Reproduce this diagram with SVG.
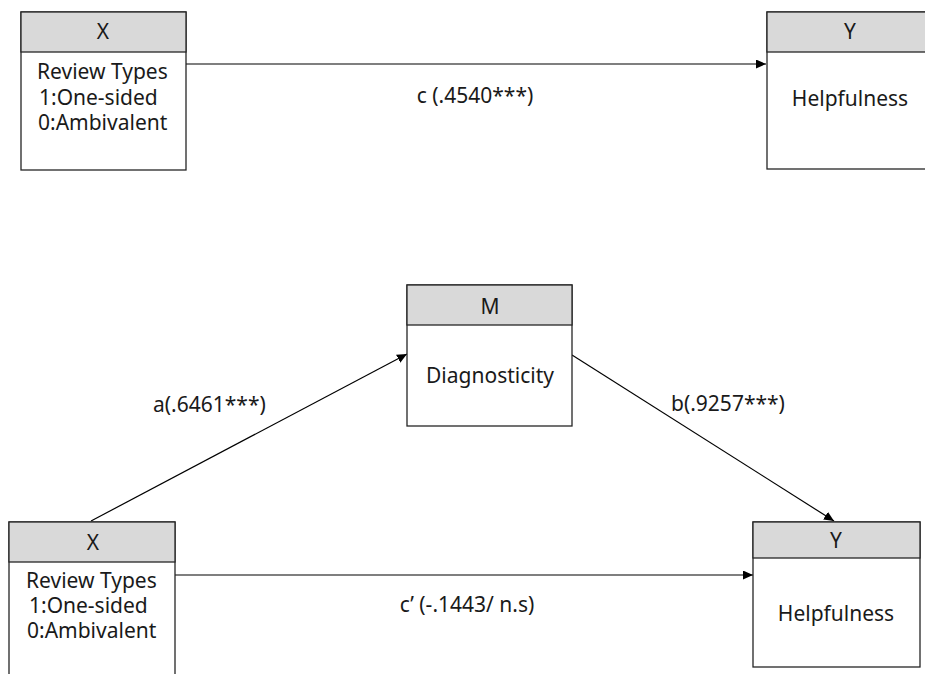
<svg xmlns="http://www.w3.org/2000/svg" width="925" height="674" viewBox="0 0 925 674">
<style>
.box{fill:#ffffff;stroke:#262626;stroke-width:1.3}
.hdr{fill:#d9d9d9;stroke:#262626;stroke-width:1.3}
text{font-family:"Noto Sans","Open Sans","Liberation Sans",sans-serif;font-size:21px;fill:#1a1a1a}
.c{text-anchor:middle}
.conn{stroke:#000;stroke-width:1.2;fill:none;marker-end:url(#ah)}
</style>
<defs>
<marker id="ah" markerUnits="userSpaceOnUse" markerWidth="11" markerHeight="10" refX="10" refY="4.5" orient="auto">
<path d="M0,0 L10,4.5 L0,9 z" fill="#000"/>
</marker>
</defs>
<rect width="925" height="674" fill="#ffffff"/>
<g id="connectors">
<line class="conn" x1="186" y1="64" x2="766" y2="64"/>
<line class="conn" x1="91" y1="521" x2="407" y2="354"/>
<line class="conn" x1="572" y1="355" x2="834" y2="521"/>
<line class="conn" x1="175" y1="575" x2="753" y2="575"/>
<text class="c" x="475" y="103">c (.4540***)</text>
<text x="153" y="412">a(.6461***)</text>
<text x="671" y="411">b(.9257***)</text>
<text class="c" x="467" y="612">c’ (-.1443/ n.s)</text>
</g>
<g id="node-x-top">
<rect class="box" x="21" y="12" width="165" height="158"/>
<rect class="hdr" x="21" y="12" width="165" height="40"/>
<text class="c" x="103" y="39">X</text>
<text x="37" y="79">Review Types</text>
<text x="39" y="105">1:One-sided</text>
<text x="38" y="130">0:Ambivalent</text>
</g>
<g id="node-y-top">
<rect class="box" x="767" y="12" width="166" height="157"/>
<rect class="hdr" x="767" y="12" width="166" height="40"/>
<text class="c" x="850" y="39">Y</text>
<text class="c" x="850" y="106">Helpfulness</text>
</g>
<g id="node-m">
<rect class="box" x="407" y="285" width="165" height="141"/>
<rect class="hdr" x="407" y="285" width="165" height="40"/>
<text class="c" x="490" y="314">M</text>
<text class="c" x="490" y="383">Diagnosticity</text>
</g>
<g id="node-x-bottom">
<rect class="box" x="9" y="522" width="166" height="160"/>
<rect class="hdr" x="9" y="522" width="166" height="40"/>
<text class="c" x="93" y="550">X</text>
<text x="26" y="588">Review Types</text>
<text x="29" y="613">1:One-sided</text>
<text x="27" y="638">0:Ambivalent</text>
</g>
<g id="node-y-bottom">
<rect class="box" x="753" y="522" width="167" height="145"/>
<rect class="hdr" x="753" y="522" width="167" height="36"/>
<text class="c" x="836" y="548">Y</text>
<text class="c" x="836" y="621">Helpfulness</text>
</g>
</svg>
